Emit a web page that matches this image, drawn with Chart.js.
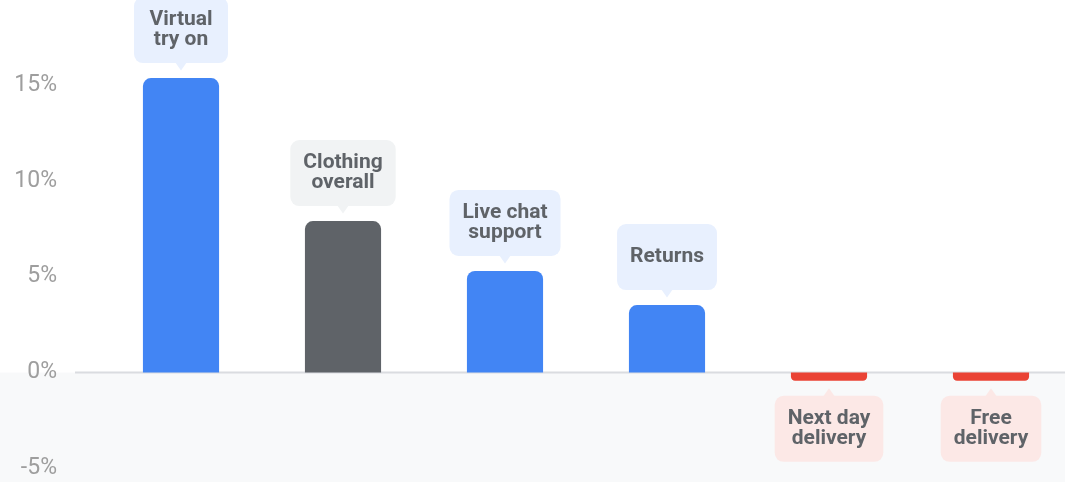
<!DOCTYPE html>
<html>
<head>
<meta charset="utf-8">
<script src="https://cdn.jsdelivr.net/npm/chart.js@4"></script>
<style>
  html, body { margin: 0; padding: 0; background: #fff; overflow: hidden; }
  #wrap { width: 1072px; height: 482px; }
</style>
</head>
<body>
<div id="wrap"><canvas id="uplift" width="1072" height="482"></canvas></div>
<script>
// categories (multi-line labels) and uplift in %
const categories = [
  ['Virtual', 'try on'],
  ['Clothing', 'overall'],
  ['Live chat', 'support'],
  ['Returns'],
  ['Next day', 'delivery'],
  ['Free', 'delivery']
];
const uplift = [15.36, 7.9, 5.3, 3.52, -0.43, -0.43];
const yTicks = [-5, 0, 5, 10, 15];

const barColors = ['#4285f4', '#5f6368', '#4285f4', '#4285f4', '#ea4335', '#ea4335'];
const boxColors = ['#e8f0fe', '#f1f3f4', '#e8f0fe', '#e8f0fe', '#fce8e6', '#fce8e6'];

// grey band below zero + zero line
const zeroBand = {
  id: 'zeroBand',
  beforeDraw(chart) {
    const { ctx, scales: { y } } = chart;
    const y0 = y.getPixelForValue(0);
    ctx.save();
    ctx.fillStyle = '#f8f9fa';
    ctx.fillRect(0, y0, chart.width, chart.height - y0);
    ctx.strokeStyle = '#dadce0';
    ctx.lineWidth = 2;
    ctx.beginPath();
    ctx.moveTo(75, y0);
    ctx.lineTo(chart.width, y0);
    ctx.stroke();
    ctx.restore();
  }
};

function roundRect(ctx, x, y, w, h, r) {
  ctx.beginPath();
  ctx.moveTo(x + r, y);
  ctx.arcTo(x + w, y, x + w, y + h, r);
  ctx.arcTo(x + w, y + h, x, y + h, r);
  ctx.arcTo(x, y + h, x, y, r);
  ctx.arcTo(x, y, x + w, y, r);
  ctx.closePath();
}

// speech-bubble labels above / below each bar
const bubbles = {
  id: 'bubbles',
  afterDatasetsDraw(chart) {
    const { ctx } = chart;
    const meta = chart.getDatasetMeta(0);
    ctx.save();
    ctx.font = 'bold 21px Roboto';
    ctx.textAlign = 'center';
    ctx.textBaseline = 'middle';
    meta.data.forEach((bar, i) => {
      const lines = categories[i];
      const up = uplift[i] >= 0;
      const tw = Math.max(...lines.map(l => ctx.measureText(l).width));
      const w = Math.max(94, tw + 26);
      const h = 66;
      const gap = 7.5, tri = 7.5;
      const x = bar.x;
      const tip = up ? bar.y - gap : bar.y + gap;
      const edge = up ? tip - tri : tip + tri;
      const top = up ? edge - h : edge;
      ctx.fillStyle = boxColors[i];
      roundRect(ctx, x - w / 2, top, w, h, 9);
      ctx.fill();
      ctx.beginPath();
      ctx.moveTo(x - 6, edge + (up ? -1 : 1));
      ctx.lineTo(x, tip);
      ctx.lineTo(x + 6, edge + (up ? -1 : 1));
      ctx.closePath();
      ctx.fill();
      ctx.fillStyle = '#5f6368';
      const lh = 20;
      const cy = top + h / 2 - (lines.length - 1) * lh / 2;
      lines.forEach((l, k) => ctx.fillText(l, x, cy + k * lh));
    });
    ctx.restore();
  }
};

new Chart(document.getElementById('uplift'), {
  type: 'bar',
  data: {
    labels: categories,
    datasets: [{
      data: uplift,
      backgroundColor: barColors,
      borderRadius: 8,
      borderSkipped: 'start',
      categoryPercentage: 1,
      barPercentage: 0.47
    }]
  },
  options: {
    responsive: false,
    animation: false,
    layout: { padding: 0 },
    plugins: { legend: { display: false }, tooltip: { enabled: false } },
    scales: {
      x: { display: false },
      y: {
        min: -5.71,
        max: 19.43,
        grid: { display: false, drawTicks: false },
        border: { display: false },
        afterBuildTicks(scale) {
          scale.ticks = yTicks.map(v => ({ value: v }));
        },
        afterFit(scale) {
          scale.width = 100;
          scale.paddingTop = 0;
          scale.paddingBottom = 0;
        },
        ticks: {
          padding: 43,
          color: '#9e9e9e',
          font: { family: 'Roboto', size: 23 },
          callback: v => v + '%'
        }
      }
    }
  },
  plugins: [zeroBand, bubbles]
});
</script>
</body>
</html>
